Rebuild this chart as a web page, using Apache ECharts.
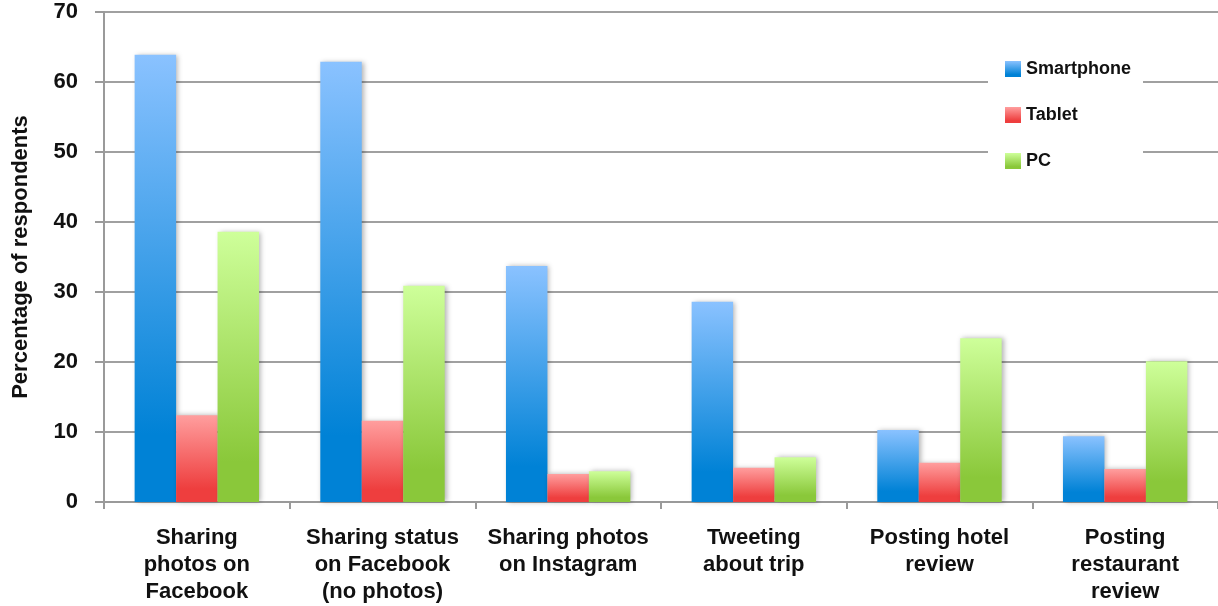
<!DOCTYPE html>
<html><head><meta charset="utf-8">
<script src="https://cdn.jsdelivr.net/npm/echarts@6/dist/echarts.min.js"></script>
<style>html,body{margin:0;padding:0;background:#fff}#c{width:1218px;height:606px}</style>
</head><body><div id="c"></div>
<script>
var categories = ['Sharing\nphotos on\nFacebook','Sharing status\non Facebook\n(no photos)','Sharing photos\non Instagram','Tweeting\nabout trip','Posting hotel\nreview','Posting\nrestaurant\nreview'];
var smartphone = [63.9, 62.9, 33.7, 28.6, 10.3, 9.4];
var tablet = [12.4, 11.6, 4.0, 4.9, 5.6, 4.7];
var pc = [38.6, 30.9, 4.4, 6.4, 23.4, 20.1];
var yTicks = [0,10,20,30,40,50,60,70];

var FONT = 'Liberation Sans';
function grad(top, bottom){
  return new echarts.graphic.LinearGradient(0,0,0,1,[{offset:0,color:top},{offset:0.85,color:bottom},{offset:1,color:bottom}]);
}
function mk(name, data, top, bottom){
  return {name:name, type:'bar', data:data, barGap:'0%', barCategoryGap:'33%',
    itemStyle:{color:grad(top,bottom), shadowBlur:5, shadowColor:'rgba(0,0,0,0.3)', shadowOffsetX:2, shadowOffsetY:0}};
}
var chart = echarts.init(document.getElementById('c'));
chart.setOption({
  animation:false,
  grid:{left:104, right:0, top:12, bottom:104, containLabel:false, outerBoundsMode:'none'},
  legend:{orient:'vertical', left:988, top:40, backgroundColor:'#fff', padding:[20,12,20,17],
    itemWidth:16, itemHeight:16, itemGap:28, icon:'rect',
    textStyle:{fontFamily:FONT, fontWeight:'bold', fontSize:18, color:'#111'},
    data:['Smartphone','Tablet','PC']},
  xAxis:{type:'category', data:categories,
    axisLine:{lineStyle:{color:'#9a9a9a', width:2}},
    axisTick:{show:true, length:7, lineStyle:{color:'#9a9a9a', width:2}},
    axisLabel:{fontFamily:FONT, fontWeight:'bold', fontSize:22, color:'#111', lineHeight:27, margin:22, interval:0}},
  yAxis:{type:'value', min:0, max:70, interval:10,
    name:'Percentage of respondents', nameLocation:'middle', nameGap:72,
    nameTextStyle:{fontFamily:FONT, fontWeight:'bold', fontSize:22, color:'#111'},
    axisLine:{show:true, lineStyle:{color:'#9a9a9a', width:2}},
    axisTick:{show:true, length:9, lineStyle:{color:'#9a9a9a', width:2}},
    splitLine:{lineStyle:{color:'#a0a0a0', width:2}},
    axisLabel:{fontFamily:FONT, fontWeight:'bold', fontSize:22, color:'#111', margin:26,
      formatter:function(v){return yTicks.indexOf(v)>=0?String(v):'';}}},
  series:[
    mk('Smartphone', smartphone, '#8AC2FF', '#0082D6'),
    mk('Tablet', tablet, '#FF9E9E', '#EE3E3E'),
    mk('PC', pc, '#CEFF9A', '#8AC83A')
  ]
});
</script></body></html>
